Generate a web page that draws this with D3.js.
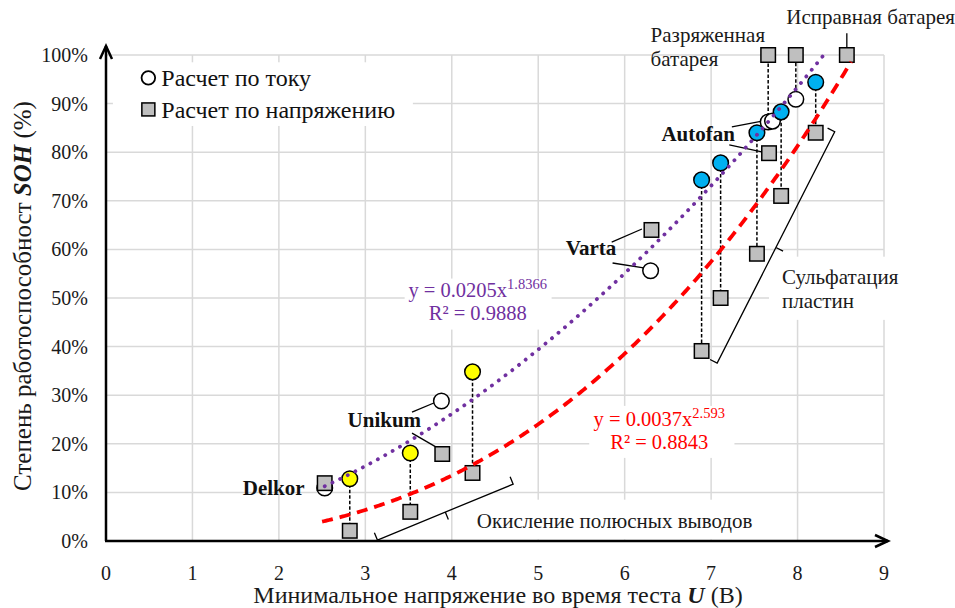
<!DOCTYPE html>
<html>
<head>
<meta charset="utf-8">
<script src="https://cdn.jsdelivr.net/npm/d3@7"></script>
<style>
  html, body { margin: 0; padding: 0; background: #fff; }
  svg text { font-family: "Liberation Serif", "Times New Roman", serif; }
</style>
</head>
<body>
<svg id="chart" width="955" height="608"></svg>
<script>
// ---- data ----
const xTicks = [0, 1, 2, 3, 4, 5, 6, 7, 8, 9];
const yTicks = [0, 10, 20, 30, 40, 50, 60, 70, 80, 90, 100];

// SOH estimated from current (white circles)
const currentU   = [2.53, 3.88, 6.30, 7.66, 7.71, 7.98];
const currentSOH = [10.9, 28.8, 55.6, 86.2, 86.4, 90.9];
// current-based points with oxidised terminals (yellow)
const oxidU   = [2.82, 3.52, 4.24];
const oxidSOH = [12.8, 18.1, 34.8];
// current-based points with sulphated plates (blue)
const sulfU   = [6.89, 7.11, 7.53, 7.81, 8.21];
const sulfSOH = [74.3, 77.8, 84.0, 88.3, 94.4];
// SOH estimated from voltage (grey squares)
const voltU   = [2.53, 2.82, 3.52, 3.89, 4.24, 6.31, 6.89, 7.11, 7.53, 7.67, 7.81, 8.21, 7.66, 7.98, 8.57];
const voltSOH = [11.9, 2.1, 6.0, 17.9, 14.0, 64.0, 39.1, 50.0, 59.1, 79.8, 71.0, 84.0, 100, 100, 100];

// dashed links join the two estimates made at the same voltage
const linkU = [2.82, 3.52, 4.24, 6.89, 7.11, 7.53, 7.81, 8.21, 7.66, 7.98];

// power-law trend lines y = a * x^b (SOH as fraction)
const fitCurrent = { a: 0.0205, b: 1.8366, r2: "0.9888", from: 2.53, to: 8.30 };
const fitVoltage = { a: 0.0037, b: 2.593,  r2: "0.8843", from: 2.50, to: 8.62 };

// ---- layout ----
const svg = d3.select("#chart");
const x = d3.scaleLinear().domain([0, 9]).range([106, 884]);
const y = d3.scaleLinear().domain([0, 100]).range([541, 55]);

const C = {
  grid: "#d9d9d9", purple: "#7030a0", red: "#ff0000",
  grey: "#bfbfbf", blue: "#00b0f0", yellow: "#ffff00", ink: "#1a1a1a"
};

// gridlines
svg.append("g").selectAll("line").data(yTicks.filter(d => d > 0)).join("line")
  .attr("x1", x(0)).attr("x2", x(9))
  .attr("y1", d => y(d)).attr("y2", d => y(d))
  .attr("stroke", C.grid).attr("stroke-width", 1.5);
svg.append("g").selectAll("line").data(xTicks.filter(d => d > 0)).join("line")
  .attr("x1", d => x(d)).attr("x2", d => x(d))
  .attr("y1", y(0)).attr("y2", y(100))
  .attr("stroke", C.grid).attr("stroke-width", 1.5);

// white boxes behind labels that sit on the grid
function box(u0, s0, u1, s1) {
  svg.append("rect")
    .attr("x", x(u0)).attr("y", y(s1))
    .attr("width", x(u1) - x(u0)).attr("height", y(s0) - y(s1))
    .attr("fill", "#fff");
}
box(0.08, 85.4, 3.55, 98.5);     // legend
box(3.455, 43.5, 5.155, 54.0);   // current fit label
box(5.59, 17.1, 7.27, 27.8);     // voltage fit label
box(7.67, 45.5, 9.6, 58.5);      // sulphation label
box(4.2, 0.3, 7.8, 8.5);         // oxidation label

// axis tick labels
svg.append("g").selectAll("text").data(yTicks).join("text")
  .attr("x", 88).attr("y", d => y(d)).attr("dy", "0.35em")
  .attr("text-anchor", "end").attr("font-size", 20).attr("fill", C.ink)
  .text(d => d + "%");
svg.append("g").selectAll("text").data(xTicks).join("text")
  .attr("x", d => x(d)).attr("y", 580)
  .attr("text-anchor", "middle").attr("font-size", 20).attr("fill", C.ink)
  .text(d => d);

// axis titles
const xt = svg.append("text").attr("x", 498).attr("y", 603)
  .attr("text-anchor", "middle").attr("font-size", 24).attr("fill", C.ink);
xt.append("tspan").text("Минимальное напряжение во время теста ");
xt.append("tspan").attr("font-weight", "bold").attr("font-style", "italic").text("U");
xt.append("tspan").text(" (В)");

const yt = svg.append("text").attr("transform", "translate(31,296) rotate(-90)")
  .attr("text-anchor", "middle").attr("font-size", 25).attr("fill", C.ink);
yt.append("tspan").text("Степень работоспособност ");
yt.append("tspan").attr("font-weight", "bold").attr("font-style", "italic").text("SOH");
yt.append("tspan").text("  (%)");

// dashed links between the two estimates of the same battery
function findSOH(us, ss, u) {
  const i = us.findIndex(v => Math.abs(v - u) < 0.005);
  return ss[i];
}
const links = linkU.map(u => {
  let top = findSOH(oxidU, oxidSOH, u);
  if (top === undefined) top = findSOH(sulfU, sulfSOH, u);
  if (top === undefined) top = findSOH(currentU, currentSOH, u);
  return { u, a: top, b: findSOH(voltU, voltSOH, u) };
});
svg.append("g").selectAll("line").data(links).join("line")
  .attr("x1", d => x(d.u)).attr("x2", d => x(d.u))
  .attr("y1", d => y(d.a)).attr("y2", d => y(d.b))
  .attr("stroke", "#000").attr("stroke-width", 1.5).attr("stroke-dasharray", "3.5 2");

// annotation lines (leaders and braces), in data units
const leaders = [
  [3.54, 26.5, 3.82, 28.6], [3.54, 22.2, 3.84, 19.1],   // Unikum
  [5.85, 61.5, 6.20, 64.2], [5.86, 57.2, 6.22, 56.2],   // Varta
  [7.24, 85.2, 7.59, 86.4], [7.21, 81.5, 7.60, 80.0],   // Autofan
  [8.57, 104.5, 8.57, 101.5]                            // good battery
];
svg.append("g").selectAll("line").data(leaders).join("line")
  .attr("x1", d => x(d[0])).attr("y1", d => y(d[1]))
  .attr("x2", d => x(d[2])).attr("y2", d => y(d[3]))
  .attr("stroke", "#000").attr("stroke-width", 1.3);

function brace(u0, s0, u1, s1, side) {
  const p0 = [x(u0), y(s0)], p1 = [x(u1), y(s1)];
  const dx = p1[0] - p0[0], dy = p1[1] - p0[1], L = Math.hypot(dx, dy);
  const n = [side * dy / L, -side * dx / L];   // normal toward hook side
  const h = 8, m = [(p0[0] + p1[0]) / 2, (p0[1] + p1[1]) / 2];
  const path = d3.path();
  path.moveTo(p0[0] + n[0] * h, p0[1] + n[1] * h);
  path.lineTo(p0[0], p0[1]);
  path.lineTo(p1[0], p1[1]);
  path.lineTo(p1[0] + n[0] * h, p1[1] + n[1] * h);
  path.moveTo(m[0], m[1]);
  path.lineTo(m[0] - n[0] * h, m[1] - n[1] * h);
  svg.append("path").attr("d", path.toString())
    .attr("fill", "none").attr("stroke", "#000").attr("stroke-width", 1.3);
}
brace(7.07, 36.6, 8.43, 84.2, 1);
brace(3.14, 0.2, 4.71, 11.7, 1);

// markers
const R = 7.8, S = 14.5;
function circles(us, ss, fill) {
  svg.append("g").selectAll("circle").data(us.map((u, i) => [u, ss[i]])).join("circle")
    .attr("cx", d => x(d[0])).attr("cy", d => y(d[1])).attr("r", R)
    .attr("fill", fill).attr("stroke", "#000").attr("stroke-width", 1.5);
}
circles(currentU, currentSOH, "#fff");
circles(oxidU, oxidSOH, C.yellow);
circles(sulfU, sulfSOH, C.blue);
svg.append("g").selectAll("rect").data(voltU.map((u, i) => [u, voltSOH[i]])).join("rect")
  .attr("x", d => x(d[0]) - S / 2).attr("y", d => y(d[1]) - S / 2)
  .attr("width", S).attr("height", S)
  .attr("fill", C.grey).attr("stroke", "#000").attr("stroke-width", 1.5);

// trend lines
function fitLine(f, color, dash, cap) {
  const pts = d3.range(f.from, f.to + 1e-9, 0.02).concat([f.to])
    .map(u => [u, 100 * f.a * Math.pow(u, f.b)]);
  svg.append("path")
    .attr("d", d3.line().x(d => x(d[0])).y(d => y(d[1]))(pts))
    .attr("fill", "none").attr("stroke", color).attr("stroke-width", 3.8)
    .attr("stroke-dasharray", dash).attr("stroke-linecap", cap);
}
fitLine(fitCurrent, C.purple, "0.1 8.4", "round");
fitLine(fitVoltage, C.red, "11 7", "butt");

// fit labels
function fitLabel(f, color, u, s1, s2, expSize) {
  const t1 = svg.append("text").attr("x", x(u)).attr("y", y(s1))
    .attr("text-anchor", "middle").attr("font-size", 20.5).attr("fill", color);
  t1.append("tspan").text("y = " + f.a + "x");
  t1.append("tspan").attr("font-size", expSize).attr("dy", -8).text(f.b);
  svg.append("text").attr("x", x(u)).attr("y", y(s2))
    .attr("text-anchor", "middle").attr("font-size", 20.5).attr("fill", color)
    .text("R² = " + f.r2);
}
fitLabel(fitCurrent, C.purple, 4.30, 50.2, 45.4, 14.5);
fitLabel(fitVoltage, C.red, 6.40, 23.6, 18.9, 14.5);

// brand labels
const brandNames = ["Delkor", "Unikum", "Varta", "Autofan"];
const brandU = [1.94, 3.22, 5.61, 6.85];
const brandSOH = [10.9, 24.9, 60.3, 83.9];
svg.append("g").selectAll("text").data(brandNames).join("text")
  .attr("x", (d, i) => x(brandU[i])).attr("y", (d, i) => y(brandSOH[i])).attr("dy", "0.35em")
  .attr("text-anchor", "middle").attr("font-size", 21).attr("font-weight", "bold").attr("fill", "#111")
  .text(d => d);

// other notes
function note(lines, u, s, size, gap) {
  const t = svg.append("text").attr("x", x(u)).attr("y", y(s))
    .attr("font-size", size).attr("fill", C.ink);
  lines.forEach((l, i) => t.append("tspan").attr("x", x(u)).attr("dy", i ? gap : 0).text(l));
}
note(["Сульфатация", "пластин"], 7.82, 52.9, 21, 24);
note(["Окисление полюсных выводов"], 4.29, 2.7, 21, 0);
note(["Разряженная", "батарея"], 6.30, 102.6, 21, 24);
note(["Исправная батарея"], 7.87, 106.4, 21, 0);

// legend
const legend = svg.append("g");
legend.append("circle").attr("cx", x(0.49)).attr("cy", y(95.3)).attr("r", 6.8)
  .attr("fill", "#fff").attr("stroke", "#000").attr("stroke-width", 1.8);
legend.append("rect").attr("x", x(0.49) - 6.5).attr("y", y(88.8) - 6.5)
  .attr("width", 13).attr("height", 13)
  .attr("fill", C.grey).attr("stroke", "#000").attr("stroke-width", 1.5);
legend.append("text").attr("x", x(0.64)).attr("y", y(95.3)).attr("dy", "0.35em")
  .attr("font-size", 24).attr("fill", "#111").text("Расчет по току");
legend.append("text").attr("x", x(0.64)).attr("y", y(88.8)).attr("dy", "0.35em")
  .attr("font-size", 24).attr("fill", "#111").text("Расчет по напряжению");

// axes with open arrowheads
const axes = svg.append("g").attr("stroke", "#000").attr("fill", "none").attr("stroke-width", 2.5);
axes.append("line").attr("x1", x(0)).attr("y1", y(0)).attr("x2", x(0)).attr("y2", 46);
axes.append("polyline").attr("points", [[x(0) - 6, 59], [x(0), 46], [x(0) + 6, 59]].join(" "))
  .attr("stroke-linejoin", "miter");
axes.append("line").attr("x1", x(0) - 1).attr("y1", y(0)).attr("x2", 888).attr("y2", y(0));
axes.append("polyline").attr("points", [[875, y(0) - 6], [888, y(0)], [875, y(0) + 6]].join(" "));
</script>
</body>
</html>
